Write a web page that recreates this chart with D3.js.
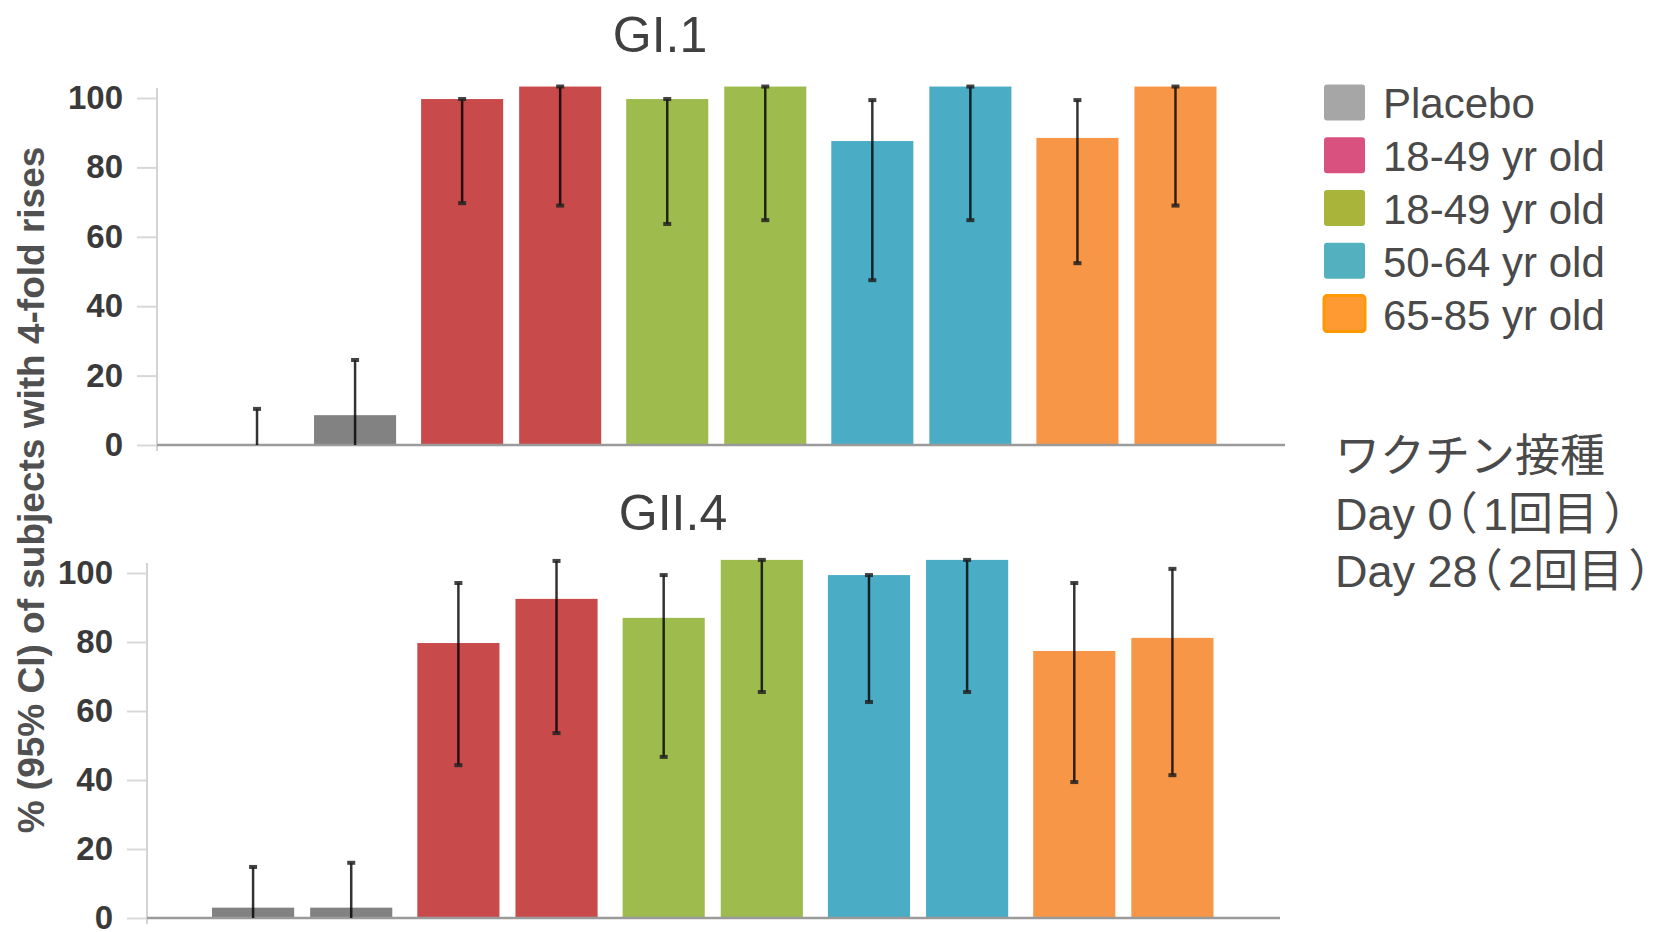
<!DOCTYPE html>
<html><head><meta charset="utf-8">
<script src="https://cdn.jsdelivr.net/npm/d3@7"></script>
<style>
html,body{margin:0;padding:0;background:#fff;}
svg{display:block;}
</style></head>
<body>
<svg id="chart" width="1657" height="932"></svg>
<script>
// ---- data ----
const groupKeys = ["placebo", "g18a", "g18b", "g50", "g65"];
const doseKeys = ["day0", "day28"];
const barColors = ["#828282", "#C84A4B", "#9EBB4E", "#4BACC6", "#F79646"];
const legendLabels = ["Placebo", "18-49 yr old", "18-49 yr old", "50-64 yr old", "65-85 yr old"];
const legendColors = ["#a6a6a6", "#d9527f", "#a9b43a", "#53b0be", "#ff9a33"];
const yTicks = [0, 20, 40, 60, 80, 100];

// GI.1 (pairs: day0, day28 for each group)
const gi1Values = [0, 8.6, 99.7, 103.3, 99.7, 103.3, 87.6, 103.3, 88.5, 103.3];
const gi1Lower  = [0, 0, 69.7, 69, 63.7, 64.8, 47.5, 64.8, 52.4, 69];
const gi1Upper  = [10.4, 24.5, 99.7, 103.3, 99.7, 103.3, 99.4, 103.3, 99.4, 103.3];
// GII.4
const gii4Values = [3, 3, 79.7, 92.5, 87, 103.8, 99.4, 103.8, 77.4, 81.2];
const gii4Lower  = [0, 0, 44.3, 53.6, 46.7, 65.5, 62.6, 65.5, 39.4, 41.4];
const gii4Upper  = [14.8, 16, 97.1, 103.5, 99.4, 103.8, 99.4, 103.8, 97.1, 101.2];

// annotation lines, split into pieces so the brackets can be spaced
const annotationLines = [["ワクチン接種"], ["Day 0", "（", "1回目", "）"], ["Day 28", "（", "2回目", "）"]];

// ---- drawing ----
const svg = d3.select("#chart");
const FONT = "'Liberation Sans', Arial, 'Noto Sans CJK JP', sans-serif";

function panel(cfg) {
  const g = svg.append("g");
  const x0 = d3.scaleBand().domain(groupKeys).range(cfg.xRange).padding(0);
  const x1 = d3.scaleBand().domain(doseKeys).range([0, x0.bandwidth()])
      .paddingInner(0.163).paddingOuter(0.1275);
  const y = d3.scaleLinear().domain([0, 100]).range(cfg.yRange);

  // axis
  const ax = g.append("g").attr("transform", `translate(${cfg.axisX},0)`)
    .call(d3.axisLeft(y).tickValues(yTicks).tickSize(20).tickSizeOuter(0).tickPadding(14));
  ax.select(".domain").remove();
  ax.selectAll(".tick line").attr("stroke", "#d8d8d8").attr("stroke-width", 2);
  ax.selectAll(".tick text").attr("font-family", FONT).attr("font-size", 33)
    .attr("font-weight", "bold").attr("fill", "#3a3a3a");
  g.append("line").attr("x1", cfg.axisX).attr("x2", cfg.axisX)
    .attr("y1", y(100) - 10).attr("y2", y(0) + 6)
    .attr("stroke", "#d4d4d4").attr("stroke-width", 2);

  const rows = [];
  groupKeys.forEach((gk, gi) => doseKeys.forEach((dk, di) => {
    const i = gi * 2 + di;
    rows.push({ g: gk, d: dk, ci: gi, v: cfg.values[i], lo: cfg.lower[i], hi: cfg.upper[i] });
  }));

  g.selectAll("rect.bar").data(rows).enter().append("rect").attr("class", "bar")
    .attr("x", d => x0(d.g) + x1(d.d)).attr("width", x1.bandwidth())
    .attr("y", d => y(d.v)).attr("height", d => Math.max(0, y(0) - y(d.v)))
    .attr("fill", d => barColors[d.ci]);

  // baseline
  g.append("line").attr("x1", cfg.axisX).attr("x2", cfg.baseEnd)
    .attr("y1", y(0)).attr("y2", y(0)).attr("stroke", "#9a9a9a").attr("stroke-width", 2.5);

  // error bars
  const cx = d => x0(d.g) + x1(d.d) + x1.bandwidth() / 2;
  const eb = g.selectAll("g.err").data(rows).enter().append("g").attr("class", "err");
  eb.append("line").attr("x1", cx).attr("x2", cx)
    .attr("y1", d => y(d.hi)).attr("y2", d => y(d.lo))
    .attr("stroke", "#000").attr("stroke-opacity", 0.8).attr("stroke-width", 2.5);
  eb.append("rect").attr("x", d => cx(d) - 4).attr("width", 8)
    .attr("y", d => y(d.hi) - 2).attr("height", 4).attr("fill", "#222").attr("opacity", 0.85);
  eb.filter(d => d.lo > 0).append("rect").attr("x", d => cx(d) - 4).attr("width", 8)
    .attr("y", d => y(d.lo) - 2).attr("height", 4).attr("fill", "#222").attr("opacity", 0.85);

  // title
  svg.append("text").attr("x", cfg.titleX).attr("y", cfg.titleY)
    .attr("text-anchor", "middle").attr("font-family", FONT).attr("font-size", 50)
    .attr("fill", "#404040").text(cfg.title);
}

panel({ title: "GI.1", titleX: 660, titleY: 52,
  values: gi1Values, lower: gi1Lower, upper: gi1Upper,
  xRange: [203.5, 1229], yRange: [445, 98], axisX: 157, baseEnd: 1285 });
panel({ title: "GII.4", titleX: 673, titleY: 530,
  values: gii4Values, lower: gii4Lower, upper: gii4Upper,
  xRange: [199.5, 1226], yRange: [918, 573], axisX: 147, baseEnd: 1280 });

// y-axis label
svg.append("text").attr("transform", "translate(44,490) rotate(-90)")
  .attr("text-anchor", "middle").attr("font-family", FONT).attr("font-size", 37)
  .attr("font-weight", "bold").attr("fill", "#505050")
  .text("% (95% CI) of subjects with 4-fold rises");

// legend
const leg = svg.append("g");
const legY = d3.scaleBand().domain(d3.range(legendLabels.length)).range([76, 340]);
legendLabels.forEach((lab, i) => {
  const cy = legY(i) + legY.bandwidth() / 2;
  leg.append("rect").attr("x", 1324).attr("y", cy - 18).attr("width", 41).attr("height", 36)
    .attr("rx", 3).attr("fill", legendColors[i])
    .attr("stroke", i === 4 ? "#ff9900" : "none").attr("stroke-width", 3);
  leg.append("text").attr("x", 1383).attr("y", cy + 16).attr("font-family", FONT)
    .attr("font-size", 42).attr("fill", "#4a4a4a").text(lab);
});

// annotation
const ann = svg.append("text").attr("font-family", FONT).attr("font-size", 45).attr("fill", "#4a4a4a");
annotationLines.forEach((parts, i) => {
  parts.forEach((p, j) => {
    const t = ann.append("tspan").text(p);
    if (j === 0) t.attr("x", 1335).attr("y", 472 + i * 57.5);
    else t.style("font-feature-settings", "'palt'").attr("dx", p === "（" ? 1 : 7);
  });
});
</script>
</body></html>
